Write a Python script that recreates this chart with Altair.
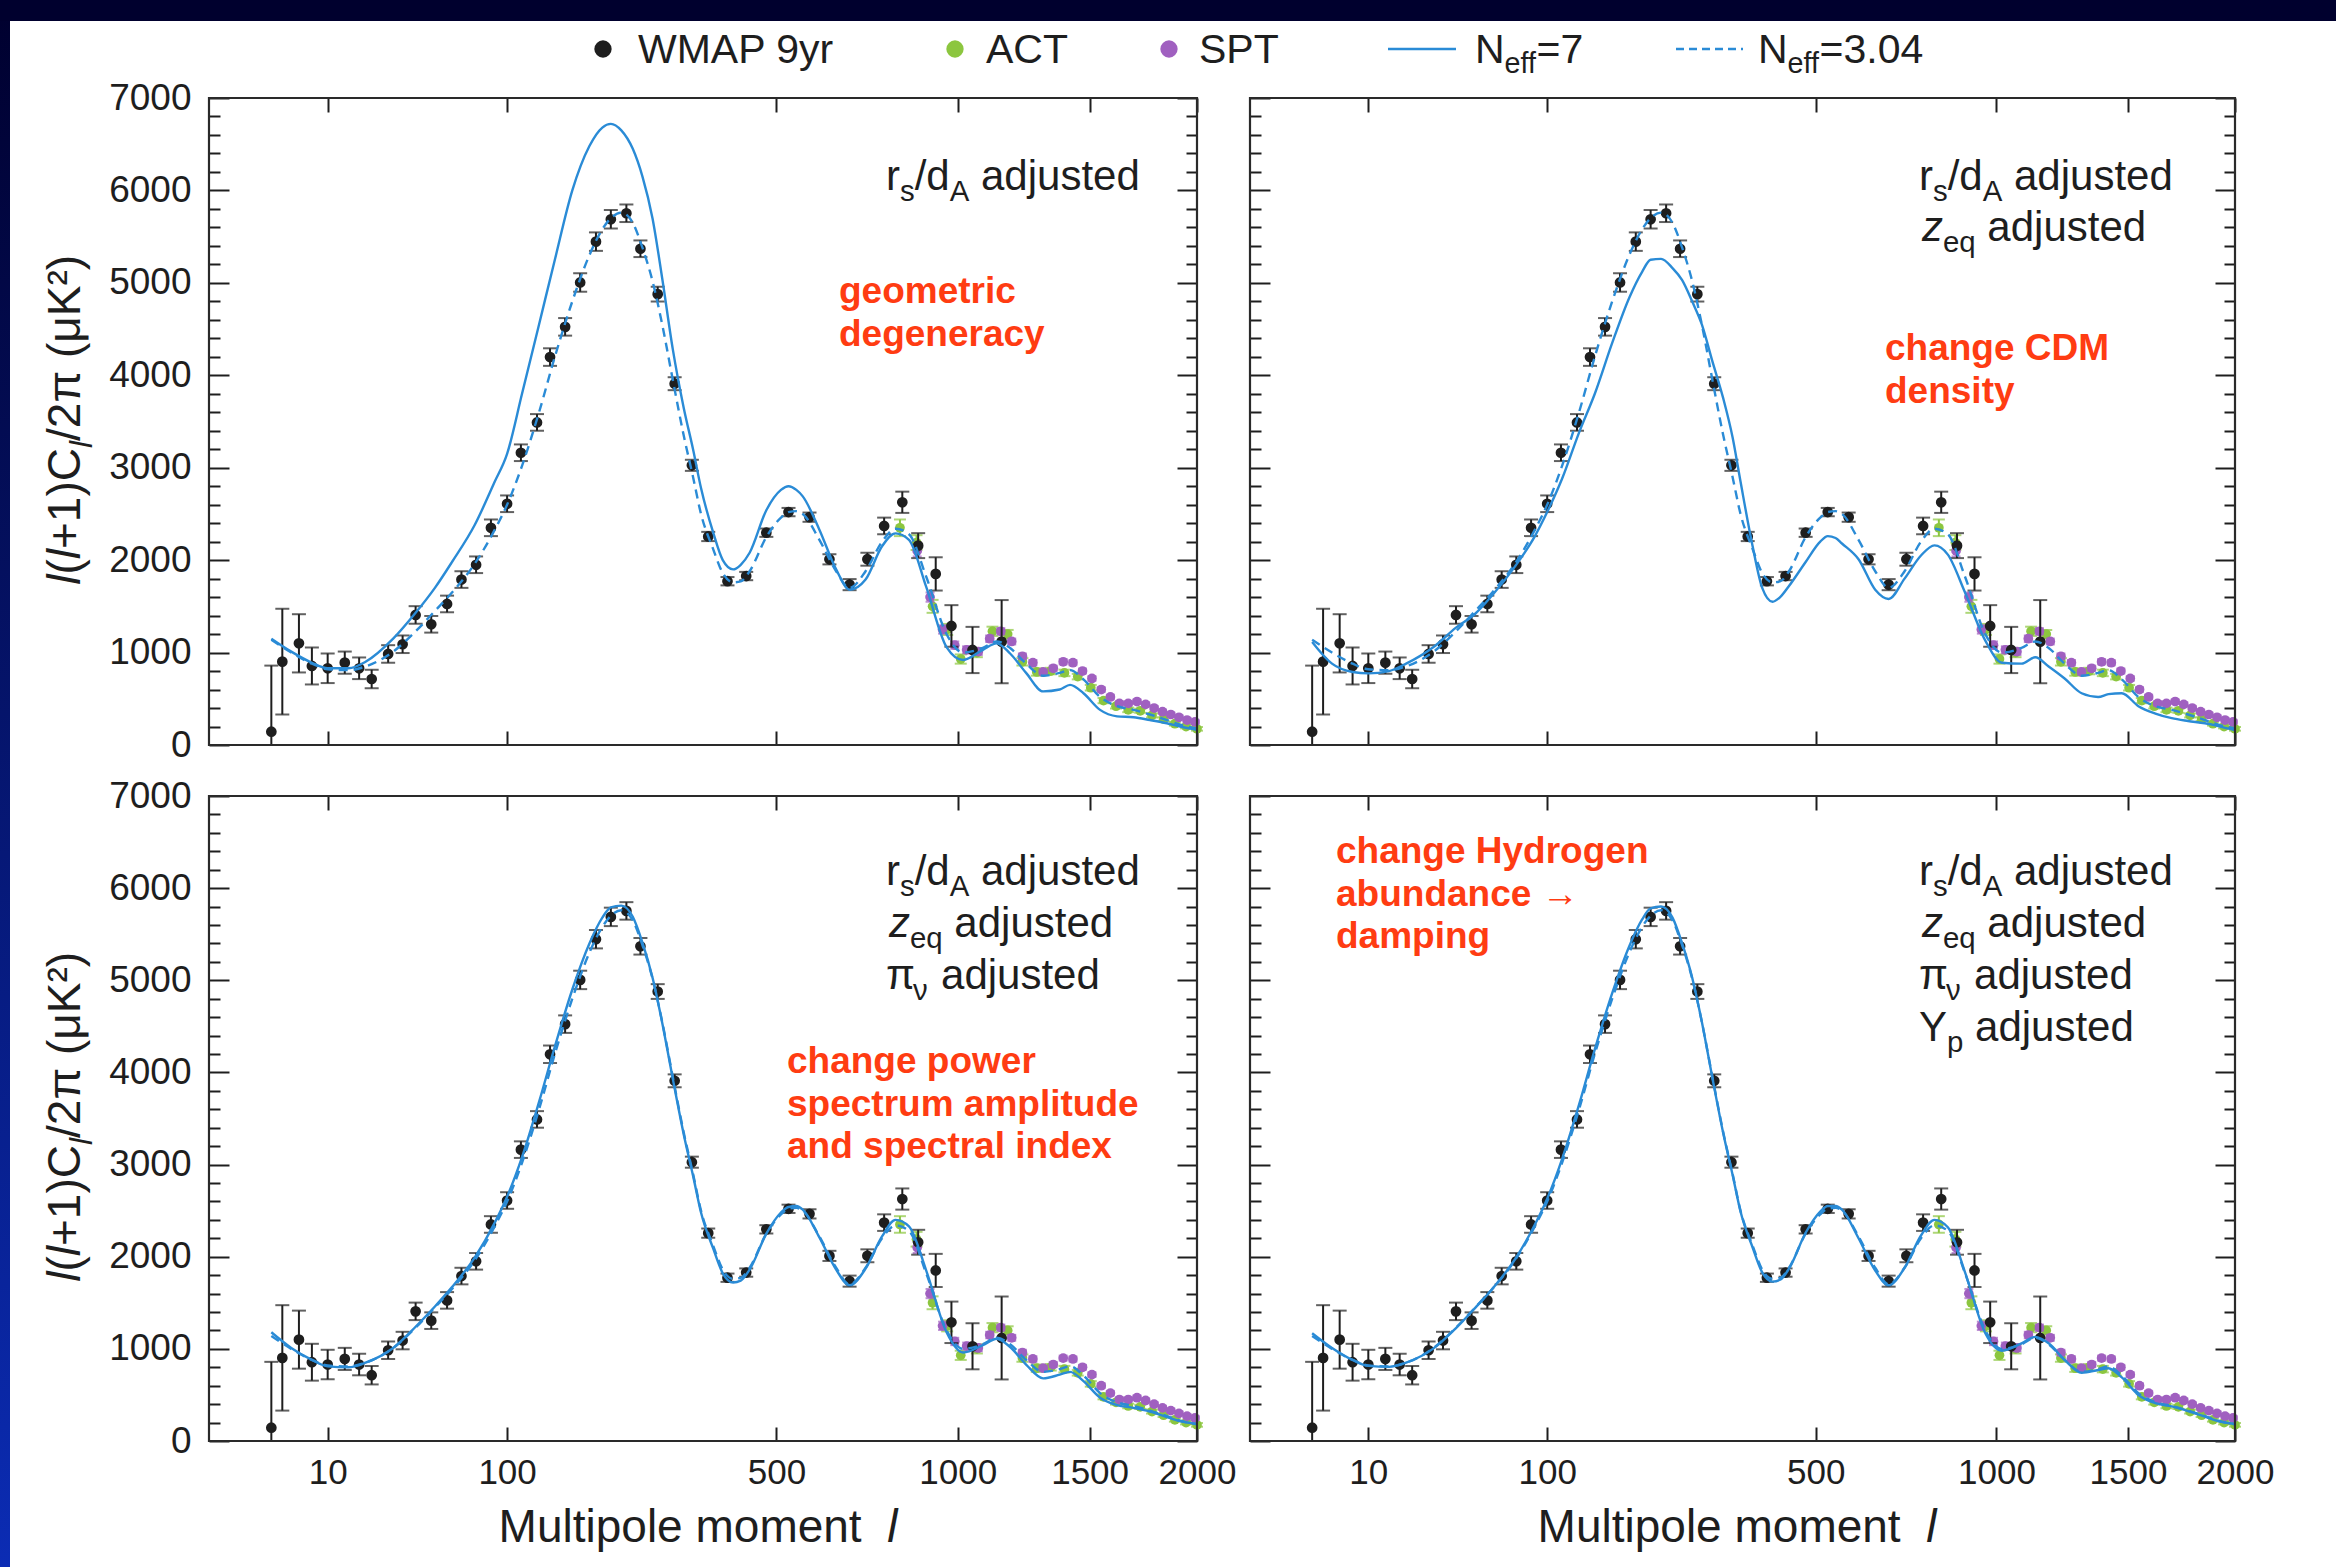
import altair as alt
import pandas as pd

# ---------------- data ----------------
wmap_l = [2, 3, 5, 7, 10, 14, 18, 22, 28, 34, 40, 48, 57, 66, 76, 87, 100, 112, 127, 140,
          156, 173, 192, 211, 232, 252, 278, 305, 334, 363, 399, 436, 478, 527, 576, 625,
          677, 725, 772, 825, 873, 928, 979, 1050, 1153]
wmap_D = [144, 902, 1100, 855, 830, 891, 830, 714, 985, 1090, 1407, 1306, 1526, 1790, 1950,
          2350, 2610, 3162, 3490, 4197, 4524, 5004, 5446, 5688, 5753, 5369, 4878, 3909, 3026,
          2256, 1772, 1828, 2297, 2520, 2465, 2009, 1735, 2010, 2370, 2626, 2157, 1851, 1288,
          1028, 1118]
wmap_err = [715, 572, 315, 200, 160, 120, 117, 100, 95, 95, 95, 90, 90, 90, 90, 90, 90, 90, 90,
            95, 95, 100, 100, 100, 95, 90, 80, 70, 60, 50, 45, 45, 45, 45, 50, 55, 60, 70, 90,
            115, 135, 180, 225, 250, 450]

act_l = [818, 868, 918, 965, 1010, 1065, 1120, 1175, 1230, 1285, 1340, 1395, 1450, 1505, 1560,
         1615, 1670, 1725, 1780, 1835, 1890, 1945, 2000]
act_D = [2350, 2190, 1500, 1250, 930, 1000, 1230, 1200, 900, 790, 800, 780, 740, 620, 480, 420,
         380, 370, 320, 280, 230, 200, 175]
act_err = [90, 80, 70, 60, 50, 50, 50, 45, 40, 40, 35, 35, 30, 30, 28, 25, 25, 22, 22, 20, 20, 20, 20]

spt_l = [870, 910, 950, 990, 1030, 1070, 1110, 1150, 1190, 1230, 1270, 1310, 1350, 1390, 1430,
         1470, 1510, 1550, 1590, 1630, 1670, 1710, 1750, 1790, 1830, 1870, 1910, 1950, 1990]
spt_D = [2100, 1600, 1250, 1080, 1030, 1010, 1150, 1230, 1120, 960, 890, 790, 830, 900, 890, 800,
         720, 600, 520, 450, 450, 470, 440, 400, 360, 330, 300, 270, 250]
spt_err = [60, 50, 45, 40, 38, 36, 35, 34, 32, 30, 30, 28, 28, 27, 27, 26, 25, 25, 24, 24, 23, 23,
           23, 22, 22, 22, 22, 22, 22]

model_l = [2, 4, 7, 10, 15, 20, 30, 40, 50, 60, 75, 90, 100, 113, 129, 145, 164, 184, 200, 211,
           225, 241, 255, 270, 285, 302, 320, 336, 350, 372, 390, 410, 425, 443, 478, 510, 527,
           545, 560, 600, 642, 677, 720, 766, 805, 845, 898, 963, 1018, 1086, 1135, 1184, 1244,
           1310, 1376, 1418, 1474, 1545, 1620, 1694, 1770, 1851, 1916, 2000]
neff304_D = [1140, 1000, 880, 820, 810, 850, 1010, 1230, 1450, 1650, 1960, 2330, 2600, 3020, 3600,
             4200, 4800, 5300, 5580, 5700, 5760, 5650, 5380, 5020, 4550, 3950, 3350, 2900, 2500,
             2120, 1860, 1760, 1770, 1880, 2250, 2460, 2520, 2530, 2500, 2220, 1880, 1700, 1880,
             2200, 2340, 2280, 1820, 1200, 1000, 1050, 1120, 1050, 880, 750, 780, 810, 710, 520,
             420, 380, 330, 270, 220, 180]
neff7_tl_D = [1150, 1010, 890, 830, 830, 900, 1150, 1430, 1700, 1980, 2380, 2850, 3150, 3800, 4550,
              5250, 6000, 6480, 6680, 6720, 6650, 6450, 6150, 5700, 5050, 4280, 3650, 3200, 2780,
              2300, 2000, 1900, 1950, 2080, 2540, 2760, 2800, 2760, 2690, 2330, 1900, 1680, 1790,
              2150, 2290, 2220, 1710, 1060, 920, 1030, 1100, 990, 780, 580, 600, 650, 560, 380,
              310, 300, 270, 235, 200, 165]
neff7_tr_D = [1115, 880, 790, 775, 800, 880, 1060, 1270, 1420, 1620, 1930, 2260, 2520, 2880, 3380,
              3800, 4350, 4840, 5120, 5250, 5260, 5160, 5030, 4800, 4550, 4150, 3750, 3330, 2850,
              2150, 1700, 1550, 1600, 1720, 1980, 2200, 2260, 2240, 2180, 2010, 1680, 1580, 1800,
              2050, 2160, 2060, 1650, 1130, 890, 880, 950, 850, 720, 560, 520, 550, 560, 420, 340,
              290, 260, 235, 205, 160]
neff7_bl_D = [1180, 1010, 880, 810, 800, 850, 1010, 1240, 1460, 1670, 1990, 2370, 2650, 3080, 3680,
              4280, 4900, 5400, 5680, 5790, 5810, 5690, 5410, 5030, 4540, 3930, 3330, 2880, 2480,
              2090, 1820, 1720, 1740, 1860, 2250, 2480, 2540, 2550, 2510, 2210, 1860, 1690, 1870,
              2220, 2400, 2330, 1850, 1180, 960, 1040, 1110, 1020, 830, 680, 720, 750, 650, 470,
              390, 360, 320, 260, 215, 185]
neff7_br_D = [1170, 1010, 880, 815, 805, 850, 1005, 1225, 1445, 1650, 1970, 2350, 2630, 3060, 3650,
              4250, 4860, 5370, 5660, 5780, 5800, 5680, 5400, 5030, 4550, 3940, 3340, 2890, 2490,
              2100, 1830, 1730, 1750, 1870, 2260, 2490, 2550, 2550, 2510, 2200, 1850, 1690, 1880,
              2230, 2400, 2320, 1830, 1170, 980, 1060, 1130, 1060, 880, 740, 770, 790, 690, 500,
              410, 375, 325, 265, 215, 185]

y_major = [0, 1000, 2000, 3000, 4000, 5000, 6000, 7000]
y_minor = [v for v in range(200, 7000, 200) if v % 1000]
x_ticks = [10, 100, 500, 1000, 1500, 2000]

# ---------------- layout / style ----------------
W, H = 2336, 1567
FONT = "Liberation Sans, Arial, Helvetica, sans-serif"
INK = "#1e1e1e"
BLUE = "#2a8bd6"
GREEN = "#8cc63f"
PURPLE = "#a060c0"
RED = "#ff3c12"

PANELS = [
    dict(x0=209, x1=1197, y0=98, y1=745, solid=neff7_tl_D, ylab=True, xlab=False),
    dict(x0=1250, x1=2235, y0=98, y1=745, solid=neff7_tr_D, ylab=False, xlab=False),
    dict(x0=209, x1=1197, y0=796, y1=1441, solid=neff7_bl_D, ylab=True, xlab=True),
    dict(x0=1250, x1=2235, y0=796, y1=1441, solid=neff7_br_D, ylab=False, xlab=True),
]

ONE = pd.DataFrame({"k": [0]})
wmap_df = pd.DataFrame({"l": wmap_l, "D": wmap_D, "err": wmap_err})
act_df = pd.DataFrame({"l": act_l, "D": act_D, "err": act_err})
spt_df = pd.DataFrame({"l": spt_l, "D": spt_D, "err": spt_err})
fid_df = pd.DataFrame({"l": model_l, "D": neff304_D})

AX = dict(domain=False, grid=False, title=None, tickColor=INK, tickWidth=2, format="d",
          labelFlush=False, labelOverlap=False, labelBound=False, labelColor=INK)

MAJ, MIN, XT = 20, 11, 14


def panel_layers(p):
    xsc = alt.Scale(type="pow", exponent=0.4, domain=[0, 2000], range=[p["x0"], p["x1"]],
                    nice=False, zero=False)
    ysc = alt.Scale(type="linear", domain=[0, 7000], range=[p["y1"], p["y0"]],
                    nice=False, zero=False, clamp=True)

    ax_lmaj = alt.Axis(orient="left", values=y_major, tickSize=MAJ, offset=-(p["x0"] + MAJ),
                       labels=p["ylab"], labelFontSize=37, labelPadding=18, **AX)
    ax_lmin = alt.Axis(orient="left", values=y_minor, tickSize=MIN, offset=-(p["x0"] + MIN),
                       labels=False, **AX)
    ax_rmaj = alt.Axis(orient="right", values=y_major, tickSize=MAJ,
                       offset=(p["x1"] - MAJ) - W, labels=False, **AX)
    ax_rmin = alt.Axis(orient="right", values=y_minor, tickSize=MIN,
                       offset=(p["x1"] - MIN) - W, labels=False, **AX)
    ax_bot = alt.Axis(orient="bottom", values=x_ticks, tickSize=XT, offset=(p["y1"] - XT) - H,
                      labels=p["xlab"], labelFontSize=35, labelPadding=14, **AX)
    ax_top = alt.Axis(orient="top", values=x_ticks, tickSize=XT, offset=-(p["y0"] + XT),
                      labels=False, **AX)

    def X(axis=None):
        return alt.X("l:Q", scale=xsc, axis=axis)

    def Y(f="D", axis=None):
        return alt.Y(f"{f}:Q", scale=ysc, axis=axis)

    out = []
    # ACT and SPT
    for df, col, cap, yax in [(act_df, GREEN, 12, ax_rmin), (spt_df, PURPLE, 9, None)]:
        b = alt.Chart(df).transform_calculate(lo="datum.D - datum.err", hi="datum.D + datum.err")
        out.append(b.mark_rule(color=col, strokeWidth=2).encode(x=X(), y=Y("lo"), y2="hi:Q"))
        for f in ("lo", "hi"):
            out.append(b.mark_tick(orient="horizontal", size=cap, thickness=2, color=col)
                       .encode(x=X(), y=Y(f)))
        out.append(alt.Chart(df).mark_circle(size=95, color=col, opacity=1)
                   .encode(x=X(), y=Y("D", yax)))
    # WMAP
    b = alt.Chart(wmap_df).transform_calculate(lo="datum.D - datum.err", hi="datum.D + datum.err")
    out.append(b.mark_rule(color=INK, strokeWidth=2).encode(x=X(), y=Y("lo"), y2="hi:Q"))
    for f in ("lo", "hi"):
        out.append(b.mark_tick(orient="horizontal", size=14, thickness=2, color=INK)
                   .encode(x=X(), y=Y(f)))
    out.append(alt.Chart(wmap_df).mark_circle(size=115, color=INK, opacity=1)
               .encode(x=X(ax_bot), y=Y("D", ax_lmaj)))
    # models
    sol_df = pd.DataFrame({"l": model_l, "D": p["solid"]})
    out.append(alt.Chart(sol_df).mark_line(color=BLUE, strokeWidth=2.4, interpolate="monotone")
               .encode(x=X(), y=Y("D", ax_lmin)))
    out.append(alt.Chart(fid_df).mark_line(color=BLUE, strokeWidth=2.4, strokeDash=[9, 6],
                                           interpolate="monotone")
               .encode(x=X(ax_top), y=Y("D", ax_rmaj)))
    # frame
    out.append(alt.Chart(ONE).mark_rect(fill="white", fillOpacity=0, stroke="#2a2a2a",
                                        strokeWidth=2.2)
               .encode(x=alt.value(p["x0"]), x2=alt.value(p["x1"]),
                       y=alt.value(p["y0"]), y2=alt.value(p["y1"])))
    return out


# ---------------- rich text helper ----------------
AW = {' ': .278, '(': .333, ')': .333, '+': .584, '/': .278, '=': .584, '.': .278, '→': 1.0,
      '²': .333, 'π': .64, 'μ': .576, 'ν': .56}
AW.update({d: .556 for d in "0123456789"})
AW.update(dict(zip("ABCDEFGHIJKLMNOPQRSTUVWXYZ",
                   [.667, .667, .722, .722, .667, .611, .778, .722, .278, .5, .667, .556, .833,
                    .722, .778, .667, .778, .722, .667, .611, .722, .667, .944, .667, .667, .611])))
AW.update(dict(zip("abcdefghijklmnopqrstuvwxyz",
                   [.556, .556, .5, .556, .556, .278, .556, .556, .222, .222, .5, .222, .833,
                    .556, .556, .556, .556, .333, .5, .278, .556, .5, .722, .5, .5, .5])))


def tw(s):
    return sum(AW.get(c, .556) for c in s)


def rich(segs, x, y, fs, angle=0, center=False):
    sizes = [fs * 0.7 if k.startswith("sub") else fs for _, k in segs]
    widths = [tw(t) * s for (t, _), s in zip(segs, sizes)]
    pos = -sum(widths) / 2 if center else 0
    rows = []
    for (t, k), s, w in zip(segs, sizes, widths):
        lead = (len(t) - len(t.lstrip(" "))) * AW[" "] * s
        shift = fs * 0.25 if k.startswith("sub") else 0
        q = pos + lead
        if angle == 0:
            px, py = x + q, y + shift
        else:
            px, py = x + shift, y - q
        rows.append(dict(px=px, py=py, text=t.strip(" "), fs=s, italic=k in ("i", "subi")))
        pos += w
    return rows


def text_layer(rows, **mk):
    df = pd.DataFrame(rows)
    return alt.Chart(df).mark_text(align="left", baseline="alphabetic", **mk).encode(
        x=alt.X("px:Q", scale=None, axis=None), y=alt.Y("py:Q", scale=None, axis=None),
        text="text:N", size=alt.Size("fs:Q", scale=None, legend=None))


layers = []
# slide border (dark band at top, blue stripe at left)
layers.append(alt.Chart(ONE).mark_rect(color=alt.LinearGradient(
    gradient="linear", x1=0, x2=0, y1=0, y2=1,
    stops=[alt.GradientStop(offset=0, color="#00002e"), alt.GradientStop(offset=1, color="#0b2cb4")]))
    .encode(x=alt.value(0), x2=alt.value(10), y=alt.value(0), y2=alt.value(H)))
layers.append(alt.Chart(ONE).mark_rect(color="#00002e")
              .encode(x=alt.value(0), x2=alt.value(W), y=alt.value(0), y2=alt.value(21)))

for p in PANELS:
    layers += panel_layers(p)

# legend markers
LEG_Y = 49
for x, c in [(603, INK), (955, GREEN), (1169, PURPLE)]:
    layers.append(alt.Chart(ONE).mark_circle(size=300, color=c, opacity=1)
                  .encode(x=alt.value(x), y=alt.value(LEG_Y)))
layers.append(alt.Chart(ONE).mark_rule(color=BLUE, strokeWidth=2.6)
              .encode(x=alt.value(1388), x2=alt.value(1456), y=alt.value(LEG_Y)))
layers.append(alt.Chart(ONE).mark_rule(color=BLUE, strokeWidth=2.6, strokeDash=[8, 5])
              .encode(x=alt.value(1676), x2=alt.value(1743), y=alt.value(LEG_Y)))

black_rows, rot_rows = [], []
LB = LEG_Y + 14
black_rows += rich([("WMAP 9yr", "n")], 638, LB, 41)
black_rows += rich([("ACT", "n")], 986, LB, 41)
black_rows += rich([("SPT", "n")], 1199, LB, 41)
black_rows += rich([("N", "n"), ("eff", "sub"), ("=7", "n")], 1475, LB, 41)
black_rows += rich([("N", "n"), ("eff", "sub"), ("=3.04", "n")], 1758, LB, 41)

RS = [("r", "n"), ("s", "sub"), ("/d", "n"), ("A", "sub"), (" adjusted", "n")]
ZEQ = [("z", "i"), ("eq", "sub"), (" adjusted", "n")]
PINU = [("π", "n"), ("ν", "sub"), (" adjusted", "n")]
YP = [("Y", "n"), ("p", "sub"), (" adjusted", "n")]
FS_A = 42
black_rows += rich(RS, 886, 190, FS_A)
black_rows += rich(RS, 1919, 190, FS_A)
black_rows += rich(ZEQ, 1922, 241, FS_A)
for i, segs in enumerate([RS, ZEQ, PINU]):
    black_rows += rich(segs, 886 + (3 if segs is ZEQ else 0), 885 + 52 * i, FS_A)
for i, segs in enumerate([RS, ZEQ, PINU, YP]):
    black_rows += rich(segs, 1919 + (3 if segs is ZEQ else 0), 885 + 52 * i, FS_A)

# x titles
for cx in (698, 1737):
    black_rows += rich([("Multipole moment  ", "n"), ("l", "i")], cx, 1542, 46, center=True)
# y titles
YT = [("l", "i"), ("(", "n"), ("l", "i"), ("+1)C", "n"), ("l", "subi"), ("/2π (μK²)", "n")]
for cy in (421, 1118):
    rot_rows += rich(YT, 80, cy, 46, angle=270, center=True)

red_rows = []
for x, y0, lines in [(839, 303, ["geometric", "degeneracy"]),
                     (1885, 360, ["change CDM", "density"]),
                     (787, 1073, ["change power", "spectrum amplitude", "and spectral index"]),
                     (1336, 863, ["change Hydrogen", "abundance →", "damping"])]:
    for i, t in enumerate(lines):
        red_rows.append(dict(px=x, py=y0 + 42.5 * i, text=t, fs=37))

layers.append(text_layer([r for r in black_rows if not r["italic"]], color=INK))
layers.append(text_layer([r for r in black_rows if r["italic"]], color=INK, fontStyle="italic"))
layers.append(text_layer([r for r in rot_rows if not r["italic"]], color=INK, angle=270))
layers.append(text_layer([r for r in rot_rows if r["italic"]], color=INK, angle=270,
                         fontStyle="italic"))
layers.append(text_layer(red_rows, color=RED, fontWeight="bold"))

chart = (alt.layer(*layers)
         .resolve_scale(x="independent", y="independent")
         .resolve_axis(x="independent", y="independent")
         .properties(width=W, height=H, autosize=alt.AutoSizeParams(type="none"),
                     padding=0, background="white")
         .configure(font=FONT)
         .configure_view(stroke="transparent"))

chart.save("out.html", embed_options={"renderer": "svg", "actions": False})
